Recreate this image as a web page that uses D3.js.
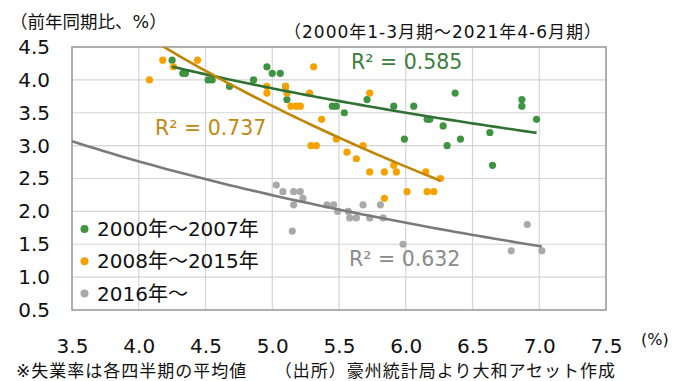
<!DOCTYPE html>
<html>
<head>
<meta charset="utf-8">
<script src="https://cdn.jsdelivr.net/npm/d3@7"></script>
<style>
  html, body { margin: 0; padding: 0; background: #fff; }
  svg { display: block; }
  text { font-family: "DejaVu Sans", "Noto Sans CJK JP", sans-serif; }
</style>
</head>
<body>
<svg id="chart" width="676" height="381"></svg>
<script>
// Unemployment rate (%) vs. wage growth (YoY, %), quarterly
const period1 = [ // 2000-2007
  [4.25,4.3],[4.33,4.1],[4.35,4.1],[4.52,4.0],[4.55,4.0],[4.68,3.9],[4.86,4.0],
  [4.96,4.2],[5.0,4.1],[5.06,4.1],[5.1,3.9],[5.11,3.7],[5.45,3.6],[5.48,3.6],
  [5.54,3.5],[5.71,3.7],[5.91,3.6],[6.06,3.6],[6.37,3.8],[6.16,3.4],[6.18,3.4],
  [6.28,3.3],[5.99,3.1],[6.31,3.0],[6.41,3.1],[6.63,3.2],[6.65,2.7],[6.87,3.7],
  [6.87,3.6],[6.98,3.4]
];
const period2 = [ // 2008-2015
  [4.08,4.0],[4.18,4.3],[4.26,4.2],[4.44,4.3],[4.96,3.9],[4.96,3.8],[5.1,3.9],
  [5.11,3.8],[5.14,3.6],[5.18,3.6],[5.21,3.6],[5.28,3.8],[5.31,4.2],[5.37,3.4],
  [5.73,3.8],[5.29,3.0],[5.33,3.0],[5.48,3.1],[5.68,3.0],[5.56,2.9],[5.63,2.8],
  [5.73,2.6],[5.84,2.6],[5.91,2.7],[5.93,2.6],[6.15,2.6],[6.26,2.5],[6.01,2.3],
  [6.16,2.3],[6.21,2.3],[5.84,2.2]
];
const period3 = [ // 2016-
  [5.03,2.4],[5.08,2.3],[5.16,2.3],[5.21,2.3],[5.23,2.2],[5.16,2.1],[5.15,1.7],
  [5.41,2.1],[5.46,2.1],[5.49,2.0],[5.57,2.0],[5.58,1.9],[5.63,1.9],[5.68,2.1],
  [5.73,1.9],[5.81,2.1],[5.83,1.9],[5.98,1.5],[6.91,1.8],[6.79,1.4],[7.02,1.4]
];
const seriesNames = ["2000年～2007年", "2008年～2015年", "2016年～"];
const rSquared = ["0.585", "0.737", "0.632"];
const xTicks = [3.5, 4.0, 4.5, 5.0, 5.5, 6.0, 6.5, 7.0, 7.5];
const yTicks = [0.5, 1.0, 1.5, 2.0, 2.5, 3.0, 3.5, 4.0, 4.5];
const yTitle = "（前年同期比、%）";
const periodNote = "（2000年1-3月期～2021年4-6月期）";
const xUnit = "(%)";
const footnote = "※失業率は各四半期の平均値　　（出所）豪州統計局より大和アセット作成";

const dotColors = ["#3f9441", "#f5a200", "#a9a9a9"];
const lineColors = ["#2f7132", "#c08505", "#7a7a7a"];
const labelColors = ["#3b7d3c", "#bf8a14", "#8a8a8a"];

const svg = d3.select("#chart");
const m = { left: 72, right: 606, top: 47, bottom: 310 };

const x = d3.scaleLinear().domain([3.5, 7.5]).range([m.left, m.right]);
const y = d3.scaleLinear().domain([0.5, 4.5]).range([m.bottom, m.top]);

// gridlines
svg.append("g").selectAll("line.v").data(xTicks).join("line")
  .attr("x1", d => x(d)).attr("x2", d => x(d))
  .attr("y1", m.top).attr("y2", m.bottom)
  .attr("stroke", "#d4d4d4").attr("stroke-width", 1.2);
svg.append("g").selectAll("line.h").data(yTicks).join("line")
  .attr("x1", m.left).attr("x2", m.right)
  .attr("y1", d => y(d)).attr("y2", d => y(d))
  .attr("stroke", "#d4d4d4").attr("stroke-width", 1.2);
svg.append("rect")
  .attr("x", m.left).attr("y", m.top)
  .attr("width", m.right - m.left).attr("height", m.bottom - m.top)
  .attr("fill", "none").attr("stroke", "#9c9c9c").attr("stroke-width", 1.5);

// axes (labels only)
const yAxis = d3.axisLeft(y).tickValues(yTicks).tickFormat(d3.format(".1f")).tickSize(0).tickPadding(22);
const yg = svg.append("g").attr("transform", `translate(${m.left},0)`).call(yAxis);
yg.select(".domain").remove();
yg.selectAll("text").attr("font-size", 20).attr("fill", "#111")
  .style("font-family", "'DejaVu Sans', sans-serif");

const xAxis = d3.axisBottom(x).tickValues(xTicks).tickFormat(d3.format(".1f")).tickSize(0).tickPadding(29);
const xg = svg.append("g").attr("transform", `translate(0,${m.bottom})`).call(xAxis);
xg.select(".domain").remove();
xg.selectAll("text").attr("font-size", 20).attr("fill", "#111")
  .style("font-family", "'DejaVu Sans', sans-serif");

svg.append("text").attr("x", 641).attr("y", 345).attr("font-size", 16).attr("fill", "#111").text(xUnit);

// log trend fit: y = a*ln(x) + b
function logFit(pts) {
  const lx = pts.map(p => Math.log(p[0]));
  const ys = pts.map(p => p[1]);
  const mx = d3.mean(lx), my = d3.mean(ys);
  let sxy = 0, sxx = 0;
  lx.forEach((v, i) => { sxy += (v - mx) * (ys[i] - my); sxx += (v - mx) ** 2; });
  const a = sxy / sxx;
  return { a, b: my - a * mx };
}

const series = [period1, period2, period3];
const trendStart = [d3.min(period1, d => d[0]), d3.min(period2, d => d[0]), 3.5];

svg.append("clipPath").attr("id", "plotclip")
  .append("rect").attr("x", m.left).attr("y", m.top)
  .attr("width", m.right - m.left).attr("height", m.bottom - m.top);

// points
series.forEach((pts, i) => {
  svg.append("g").selectAll("circle").data(pts).join("circle")
    .attr("cx", d => x(d[0])).attr("cy", d => y(d[1])).attr("r", 3.6)
    .attr("fill", dotColors[i]);
});

// trend lines
series.forEach((pts, i) => {
  const f = logFit(pts);
  const x0 = trendStart[i], x1 = d3.max(pts, d => d[0]);
  const xs = d3.range(0, 61).map(k => x0 + (x1 - x0) * k / 60);
  const line = d3.line().x(d => x(d)).y(d => y(f.a * Math.log(d) + f.b));
  svg.append("path").datum(xs).attr("d", line)
    .attr("fill", "none").attr("stroke", lineColors[i]).attr("stroke-width", 2.6)
    .attr("clip-path", "url(#plotclip)");
});

// R² labels
const r2Pos = [[351, 69], [155, 135], [349, 266]];
rSquared.forEach((r, i) => {
  svg.append("text").attr("x", r2Pos[i][0]).attr("y", r2Pos[i][1])
    .attr("font-size", 20.5).attr("fill", labelColors[i]).text("R² = " + r);
});

// legend
const lg = svg.append("g");
seriesNames.forEach((name, i) => {
  const cy = 229 + i * 32.3;
  lg.append("circle").attr("cx", 84.5).attr("cy", cy).attr("r", 4).attr("fill", dotColors[i]);
  lg.append("text").attr("x", 97).attr("y", cy + 7).attr("font-size", 20).attr("fill", "#111").text(name);
});

// titles and notes
svg.append("text").attr("x", 10).attr("y", 28).attr("font-size", 17.5).attr("fill", "#111").text(yTitle);
svg.append("text").attr("x", 284).attr("y", 38).attr("font-size", 17).attr("letter-spacing", 1)
  .attr("fill", "#111").text(periodNote);
svg.append("text").attr("x", 16).attr("y", 377).attr("font-size", 17).attr("letter-spacing", 1)
  .attr("fill", "#111").text(footnote);
</script>
</body>
</html>
